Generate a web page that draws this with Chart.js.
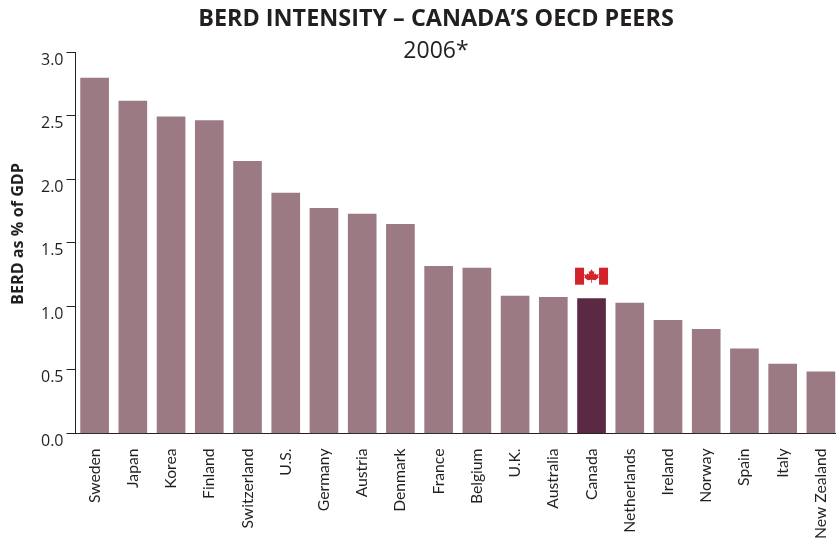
<!DOCTYPE html>
<html><head><meta charset="utf-8">
<style>html,body{margin:0;padding:0;background:#fff;overflow:hidden;width:836px;height:541px}canvas{display:block}</style>
<script src="https://cdn.jsdelivr.net/npm/chart.js@4"></script>
</head><body>
<canvas id="c" width="872" height="541"></canvas>
<script>
const categories = ["Sweden","Japan","Korea","Finland","Switzerland","U.S.","Germany","Austria","Denmark","France","Belgium","U.K.","Australia","Canada","Netherlands","Ireland","Norway","Spain","Italy","New Zealand"];
const values = [2.795,2.615,2.49,2.46,2.14,1.89,1.77,1.725,1.645,1.315,1.30,1.08,1.07,1.06,1.025,0.89,0.82,0.665,0.545,0.485];
const highlighted = "Canada";
const titleText = "BERD INTENSITY – CANADA’S OECD PEERS";
const subtitleText = "2006*";
const yAxisTitle = "BERD as % of GDP";
const FONT = '"Open Sans"';
const INK = '#231f20';

const overlay = {
  id:'overlay',
  afterDraw(chart){
    const c = chart.ctx;
    c.save();
    c.fillStyle = INK; c.textAlign='center'; c.textBaseline='alphabetic';
    c.font = 'bold 23.4px '+FONT; c.fillText(titleText,436,26);
    c.font = '23px '+FONT; c.fillText(subtitleText,436,58);
    // y-axis title
    c.save();
    c.translate(23,234); c.rotate(-Math.PI/2);
    c.font = 'bold 16.2px '+FONT; c.fillText(yAxisTitle,0,0);
    c.restore();
    // flag above the highlighted bar
    const i = categories.indexOf(highlighted);
    const cx = chart.scales.x.getPixelForValue(i);
    const top = chart.scales.y.getPixelForValue(values[i])-31;
    const w=33,h=17,x=cx-w/2;
    c.fillStyle='#fff'; c.fillRect(x,top,w,h);
    c.fillStyle='#d2232a';
    c.fillRect(x,top,9,h); c.fillRect(x+w-9,top,9,h);
    const L=[[0,-7],[1.5,-4.5],[3,-5],[2.2,-1.5],[4,-3],[5,-1.5],[7.5,-2],[6.5,0.5],[7.5,1],[3.8,4],[0.4,3.6],[0.4,6.5],[-0.4,6.5],[-0.4,3.6],[-3.8,4],[-7.5,1],[-6.5,0.5],[-7.5,-2],[-5,-1.5],[-4,-3],[-2.2,-1.5],[-3,-5],[-1.5,-4.5]];
    c.beginPath();
    L.forEach((p,k)=>{const px=cx+p[0],py=top+h/2+p[1]; k?c.lineTo(px,py):c.moveTo(px,py);});
    c.closePath(); c.fill();
    c.restore();
  }
};

new Chart(document.getElementById('c'),{
  type:'bar',
  data:{labels:categories,datasets:[{
    data:values,
    backgroundColor:categories.map(n=>n===highlighted?'#5c2944':'#9b7a83'),
    barThickness:28,
    borderWidth:0
  }]},
  options:{
    responsive:false,animation:false,
    layout:{padding:{top:52,right:32,left:0,bottom:0}},
    plugins:{legend:{display:false},tooltip:{enabled:false},title:{display:false}},
    scales:{
      x:{
        afterFit(s){s.height=107.5;},
        grid:{display:false},
        border:{display:true,color:'#222',width:1},
        ticks:{color:INK,font:{family:'Lato',size:15.7},minRotation:90,maxRotation:90,autoSkip:false,padding:7}
      },
      y:{
        min:0,max:3,
        afterFit(s){s.width=75.5;},
        grid:{drawOnChartArea:false,drawTicks:true,tickLength:9,color:'#222',lineWidth:1},
        border:{display:true,color:'#222',width:1},
        ticks:{stepSize:0.5,color:INK,padding:3,font:{family:FONT,size:16,lineHeight:1},
          callback:v=>['',Number(v).toFixed(1)]}
      }
    }
  },
  plugins:[overlay]
});
</script>
</body></html>
